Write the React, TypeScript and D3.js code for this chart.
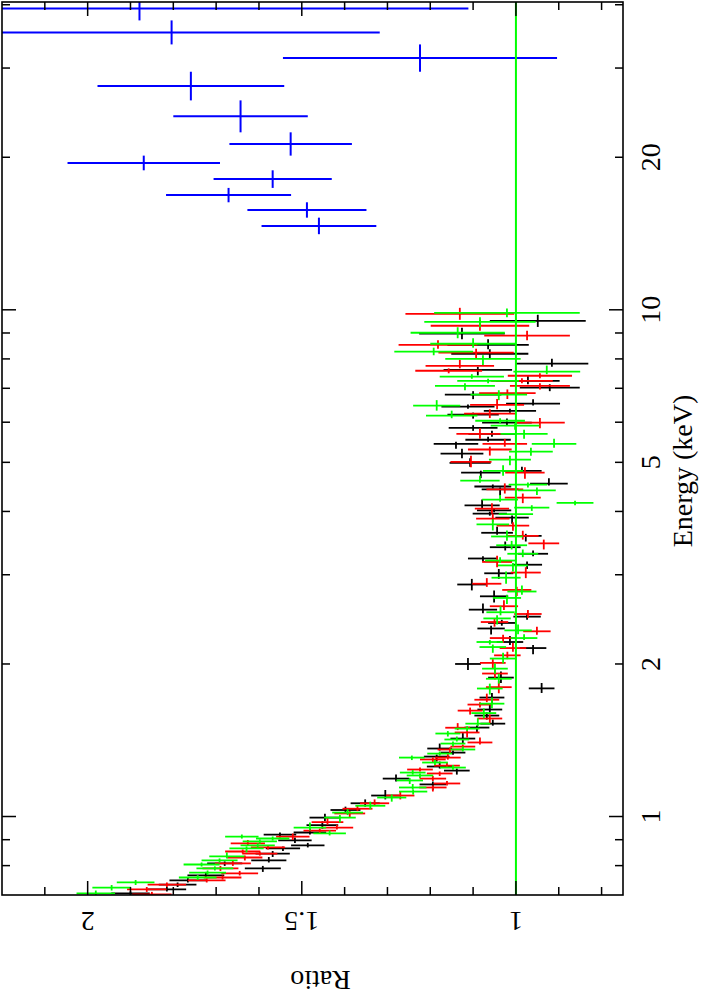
import React from 'react';
import * as d3 from 'd3';

type Pt = [number, number, number]; // [energy keV, ratio, ratio error]

const blackData: Pt[] = [
  [0.705, 1.900, 0.045], [0.718, 1.815, 0.045], [0.734, 1.790, 0.044], [0.748, 1.766, 0.043],
  [0.765, 1.724, 0.043], [0.790, 1.591, 0.042], [0.808, 1.680, 0.041], [0.819, 1.577, 0.041],
  [0.845, 1.568, 0.040], [0.865, 1.544, 0.040], [0.877, 1.486, 0.039], [0.897, 1.516, 0.039],
  [0.921, 1.551, 0.038], [0.930, 1.481, 0.038], [0.962, 1.452, 0.037], [0.995, 1.446, 0.036],
  [1.030, 1.398, 0.035], [1.062, 1.352, 0.034], [1.100, 1.305, 0.033], [1.157, 1.194, 0.031],
  [1.188, 1.280, 0.031], [1.232, 1.138, 0.030], [1.255, 1.178, 0.030], [1.313, 1.185, 0.030],
  [1.337, 1.147, 0.029], [1.362, 1.178, 0.029], [1.425, 1.124, 0.029], [1.498, 1.091, 0.029],
  [1.525, 1.054, 0.029], [1.582, 1.068, 0.029], [1.626, 1.061, 0.029], [1.717, 1.056, 0.029],
  [1.790, 0.940, 0.030], [1.880, 1.035, 0.030], [2.000, 1.112, 0.030], [2.150, 0.960, 0.031],
  [2.210, 1.014, 0.031], [2.350, 1.058, 0.032], [2.410, 1.033, 0.032], [2.480, 0.974, 0.032],
  [2.560, 1.077, 0.033], [2.720, 1.051, 0.033], [2.870, 1.103, 0.034], [3.020, 1.040, 0.034],
  [3.140, 0.974, 0.035], [3.230, 1.077, 0.035], [3.300, 0.960, 0.035], [3.400, 1.025, 0.036],
  [3.580, 0.977, 0.037], [3.630, 1.044, 0.037], [3.890, 1.009, 0.039], [3.960, 1.061, 0.040],
  [4.020, 1.051, 0.040], [4.110, 1.079, 0.041], [4.420, 1.037, 0.043], [4.480, 1.054, 0.043],
  [4.540, 0.923, 0.044], [4.770, 1.082, 0.046], [4.810, 0.986, 0.046], [4.990, 1.107, 0.048],
  [5.200, 1.126, 0.050], [5.440, 1.140, 0.052], [5.540, 1.065, 0.053], [5.690, 1.056, 0.055],
  [5.850, 1.100, 0.057], [5.990, 1.021, 0.058], [6.210, 1.100, 0.060], [6.320, 1.014, 0.061],
  [6.440, 1.112, 0.062], [6.530, 0.960, 0.063], [6.800, 1.100, 0.066], [7.020, 0.921, 0.070],
  [7.240, 0.972, 0.074], [7.610, 1.089, 0.080], [7.830, 0.916, 0.085], [8.190, 1.061, 0.090],
  [8.530, 1.065, 0.095], [8.970, 1.126, 0.100], [9.510, 0.949, 0.112],
];

const redData: Pt[] = [
  [0.702, 1.850, 0.046], [0.718, 1.862, 0.046], [0.734, 1.815, 0.045], [0.748, 1.722, 0.044],
  [0.758, 1.685, 0.044], [0.772, 1.645, 0.043], [0.790, 1.690, 0.042], [0.808, 1.661, 0.042],
  [0.830, 1.633, 0.041], [0.845, 1.598, 0.041], [0.853, 1.638, 0.041], [0.869, 1.579, 0.040],
  [0.885, 1.626, 0.040], [0.913, 1.521, 0.039], [0.938, 1.458, 0.038], [0.951, 1.418, 0.038],
  [0.975, 1.440, 0.037], [1.014, 1.388, 0.036], [1.036, 1.370, 0.035], [1.062, 1.330, 0.034],
  [1.100, 1.270, 0.033], [1.141, 1.194, 0.032], [1.162, 1.161, 0.031], [1.188, 1.194, 0.031],
  [1.216, 1.178, 0.030], [1.238, 1.224, 0.030], [1.260, 1.161, 0.030], [1.296, 1.194, 0.030],
  [1.307, 1.159, 0.030], [1.356, 1.154, 0.029], [1.374, 1.124, 0.029], [1.400, 1.084, 0.029],
  [1.465, 1.114, 0.029], [1.497, 1.136, 0.029], [1.561, 1.061, 0.029], [1.618, 1.107, 0.029],
  [1.663, 1.084, 0.029], [1.700, 1.068, 0.029], [1.800, 1.040, 0.030], [1.915, 1.049, 0.030],
  [2.010, 1.054, 0.030], [2.080, 1.020, 0.031], [2.150, 1.007, 0.031], [2.250, 1.030, 0.031],
  [2.320, 0.951, 0.032], [2.420, 1.050, 0.032], [2.510, 0.972, 0.032], [2.600, 1.028, 0.033],
  [2.800, 0.998, 0.034], [2.880, 1.068, 0.034], [3.030, 0.977, 0.035], [3.180, 1.044, 0.035],
  [3.460, 0.935, 0.036], [3.580, 0.984, 0.037], [3.750, 1.007, 0.038], [3.870, 1.054, 0.039],
  [4.050, 1.056, 0.040], [4.260, 0.984, 0.042], [4.420, 1.026, 0.043], [4.770, 0.979, 0.046],
  [5.010, 1.105, 0.048], [5.300, 1.061, 0.051], [5.440, 1.026, 0.052], [5.690, 1.084, 0.055],
  [5.990, 0.944, 0.058], [6.240, 1.061, 0.060], [6.490, 1.044, 0.063], [6.850, 1.020, 0.066],
  [7.080, 0.944, 0.070], [7.240, 0.986, 0.072], [7.410, 0.944, 0.075], [7.580, 1.157, 0.078],
  [7.750, 1.131, 0.080], [8.230, 1.093, 0.088], [8.530, 1.182, 0.092], [8.890, 0.974, 0.100],
  [9.300, 1.084, 0.115], [9.820, 1.131, 0.127],
];

const greenData: Pt[] = [
  [0.705, 1.981, 0.045], [0.724, 1.944, 0.045], [0.741, 1.888, 0.044], [0.758, 1.743, 0.044],
  [0.775, 1.720, 0.043], [0.790, 1.703, 0.043], [0.804, 1.734, 0.042], [0.819, 1.692, 0.042],
  [0.834, 1.675, 0.041], [0.865, 1.629, 0.040], [0.877, 1.603, 0.040], [0.893, 1.598, 0.040],
  [0.905, 1.568, 0.039], [0.913, 1.640, 0.039], [0.926, 1.435, 0.038], [0.951, 1.481, 0.038],
  [0.995, 1.411, 0.037], [1.018, 1.393, 0.036], [1.050, 1.340, 0.035], [1.090, 1.290, 0.034],
  [1.120, 1.240, 0.033], [1.141, 1.241, 0.032], [1.178, 1.248, 0.031], [1.205, 1.224, 0.031],
  [1.221, 1.241, 0.030], [1.249, 1.147, 0.030], [1.278, 1.189, 0.030], [1.307, 1.243, 0.030],
  [1.331, 1.178, 0.029], [1.356, 1.124, 0.029], [1.393, 1.147, 0.029], [1.419, 1.138, 0.029],
  [1.458, 1.159, 0.029], [1.491, 1.114, 0.029], [1.525, 1.089, 0.029], [1.600, 1.075, 0.029],
  [1.670, 1.056, 0.029], [1.789, 1.061, 0.030], [1.870, 1.040, 0.030], [1.958, 1.049, 0.030],
  [2.050, 1.030, 0.031], [2.160, 1.054, 0.031], [2.210, 1.061, 0.031], [2.250, 0.981, 0.031],
  [2.330, 0.995, 0.032], [2.460, 1.044, 0.032], [2.530, 1.036, 0.033], [2.700, 1.021, 0.033],
  [2.780, 0.986, 0.034], [2.960, 1.023, 0.034], [3.130, 1.007, 0.035], [3.200, 1.037, 0.035],
  [3.300, 0.984, 0.036], [3.430, 1.010, 0.036], [3.570, 1.021, 0.037], [3.770, 1.054, 0.038],
  [3.950, 1.000, 0.040], [4.070, 0.963, 0.041], [4.160, 0.862, 0.043], [4.220, 1.037, 0.042],
  [4.400, 0.951, 0.044], [4.520, 0.972, 0.045], [4.600, 1.084, 0.046], [4.810, 1.030, 0.047],
  [5.060, 1.014, 0.049], [5.250, 0.965, 0.051], [5.440, 0.911, 0.052], [5.690, 0.981, 0.055],
  [5.910, 1.002, 0.057], [6.040, 1.037, 0.058], [6.180, 1.150, 0.060], [6.470, 1.185, 0.055],
  [6.800, 1.040, 0.066], [7.080, 1.119, 0.070], [7.240, 1.065, 0.072], [7.380, 1.103, 0.075],
  [7.550, 0.928, 0.078], [8.000, 1.077, 0.088], [8.270, 1.192, 0.092], [8.570, 1.100, 0.100],
  [9.010, 1.136, 0.110], [9.470, 1.084, 0.130], [9.860, 1.021, 0.170],
];

// high-energy instrument: contiguous energy bins
const blueEdges = [14.1, 15.2, 16.3, 17.4, 18.85, 20.15, 22.4, 25.9, 29.5, 33.4, 37.25, 41.5];
const blueRatio = [1.460, 1.488, 1.671, 1.568, 1.869, 1.526, 1.643, 1.759, 1.224, 1.804, 1.879];
const blueError = [0.134, 0.139, 0.146, 0.138, 0.178, 0.143, 0.157, 0.218, 0.320, 0.486, 0.768];

const energyLabelTicks = [1, 2, 5, 10, 20];
const energyMajorTicks = [1, 10];
const energyMinorTicks = [0.8, 0.9, 2, 3, 4, 5, 6, 7, 8, 9, 20, 30, 40];
const ratioLabelTicks = [1, 1.5, 2];
const ratioMinorTicks = [0.8, 0.9, 1.1, 1.2, 1.3, 1.4, 1.6, 1.7, 1.8, 1.9, 2.1];

const FONT = "'Liberation Serif', 'Times New Roman', serif";

export default function App() {
  const left = 2, right = 623, top = 2, bottom = 895;
  const y = d3.scaleLog().domain([0.7, 40.5]).range([bottom, top]);
  const x = d3.scaleLinear().domain([2.2, 0.75]).range([left, right]);
  const maxHalfDex = 0.012;

  const series = (data: Pt[], color: string, key: string) => {
    const els: React.ReactNode[] = [];
    data.forEach((d, i) => {
      const [e, r, err] = d;
      const prev = i > 0 ? data[i - 1][0] : null;
      const next = i < data.length - 1 ? data[i + 1][0] : null;
      let loDex = prev ? Math.log10(e / prev) / 2 : next ? Math.log10(next / e) / 2 : maxHalfDex;
      let hiDex = next ? Math.log10(next / e) / 2 : loDex;
      loDex = Math.min(Math.max(loDex, 0.004), maxHalfDex);
      hiDex = Math.min(Math.max(hiDex, 0.004), maxHalfDex);
      const yc = y(e);
      els.push(
        <line key={`${key}h${i}`} x1={x(r + err)} x2={x(r - err)} y1={yc} y2={yc} stroke={color} strokeWidth={1.8} />,
        <line key={`${key}v${i}`} x1={x(r)} x2={x(r)} y1={y(e / Math.pow(10, loDex))} y2={y(e * Math.pow(10, hiDex))} stroke={color} strokeWidth={1.8} />
      );
    });
    return els;
  };

  const blue = blueRatio.map((r, i) => {
    const lo = blueEdges[i], hi = blueEdges[i + 1];
    const ec = Math.sqrt(lo * hi);
    const err = blueError[i];
    return (
      <g key={`b${i}`}>
        <line x1={x(r + err)} x2={x(r - err)} y1={y(ec)} y2={y(ec)} stroke="#0000ff" strokeWidth={2} />
        <line x1={x(r)} x2={x(r)} y1={y(lo)} y2={y(hi)} stroke="#0000ff" strokeWidth={2} />
      </g>
    );
  });

  const tickColor = '#000';
  const ticks: React.ReactNode[] = [];
  [...energyMajorTicks.map(v => [v, 14]), ...energyMinorTicks.map(v => [v, 8])].forEach(([v, len], i) => {
    const yy = y(v);
    ticks.push(
      <line key={`el${i}`} x1={left} x2={left + len} y1={yy} y2={yy} stroke={tickColor} strokeWidth={1.5} />,
      <line key={`er${i}`} x1={right} x2={right - len} y1={yy} y2={yy} stroke={tickColor} strokeWidth={1.5} />
    );
  });
  [...ratioLabelTicks.map(v => [v, 14]), ...ratioMinorTicks.map(v => [v, 8])].forEach(([v, len], i) => {
    const xx = x(v);
    ticks.push(
      <line key={`rt${i}`} x1={xx} x2={xx} y1={top} y2={top + len} stroke={tickColor} strokeWidth={1.5} />,
      <line key={`rb${i}`} x1={xx} x2={xx} y1={bottom} y2={bottom - len} stroke={tickColor} strokeWidth={1.5} />
    );
  });

  return (
    <svg width={702} height={1000} style={{ position: 'absolute', left: 0, top: 0, background: '#fff' }}>
      <defs>
        <clipPath id="frameClip">
          <rect x={left} y={top} width={right - left} height={bottom - top} />
        </clipPath>
      </defs>
      <rect x={0} y={0} width={702} height={1000} fill="#fff" />
      <g clipPath="url(#frameClip)">
        {series(blackData, '#000000', 'k')}
        {series(redData, '#ff0000', 'r')}
        {series(greenData, '#00ff00', 'g')}
        {blue}
        <line x1={x(1)} x2={x(1)} y1={top} y2={bottom} stroke="#00ff00" strokeWidth={2} />
      </g>
      {ticks}
      <rect x={left} y={top} width={right - left} height={bottom - top} fill="none" stroke="#000" strokeWidth={1.6} />
      {energyLabelTicks.map(v => (
        <text key={`elab${v}`} transform={`translate(660,${y(v)}) rotate(-90)`} textAnchor="middle"
          fontFamily={FONT} fontSize={28} fill="#000">{v}</text>
      ))}
      <text transform="translate(692,471) rotate(-90)" textAnchor="middle" fontFamily={FONT} fontSize={28} fill="#000">Energy (keV)</text>
      {ratioLabelTicks.map(v => (
        <text key={`rlab${v}`} transform={`translate(${x(v)},912) rotate(180)`} textAnchor="middle"
          fontFamily={FONT} fontSize={28} fill="#000">{v}</text>
      ))}
      <text transform={`translate(${(left + right) / 2 + 8},971) rotate(180)`} textAnchor="middle" fontFamily={FONT} fontSize={28} fill="#000">Ratio</text>
    </svg>
  );
}
